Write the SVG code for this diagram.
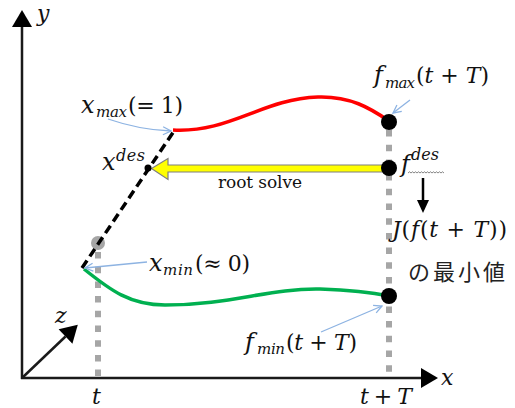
<svg xmlns="http://www.w3.org/2000/svg" width="515" height="408" viewBox="0 0 515 408">
<style>
.m{font-family:"DejaVu Serif","Liberation Serif",serif;font-size:22px;fill:#111}
.b{font-size:24px}
.i{font-style:italic}
.sub{font-family:"DejaVu Serif","Liberation Serif",serif;font-size:15px;font-style:italic;fill:#111}
.sup{font-family:"DejaVu Serif","Liberation Serif",serif;font-size:16px;font-style:italic;fill:#111}
.txt{font-family:"DejaVu Serif","Liberation Serif",serif;font-size:17px;fill:#111}
.cjk{font-family:"Noto Sans CJK JP","Noto Sans CJK SC",sans-serif;font-size:22px;fill:#222}
.axis{stroke:#1a1a1a;stroke-width:2.5;fill:none}
.guide{stroke:#a6a6a6;stroke-width:6;stroke-dasharray:6.5 8.2;fill:none}
.note{stroke:#8db3e2;stroke-width:1.3;fill:none}
.dot{fill:#000}
</style>
<defs>
<marker id="ah" markerUnits="userSpaceOnUse" markerWidth="18" markerHeight="20" viewBox="0 0 17 20" refX="0" refY="10" orient="auto">
<path d="M0,0 L17,10 L0,20 z" fill="#000"/>
</marker>
<marker id="bh" markerUnits="userSpaceOnUse" markerWidth="10" markerHeight="10" viewBox="0 0 10 10" refX="9" refY="5" orient="auto">
<path d="M1,1 L9,5 L1,9" fill="none" stroke="#8db3e2" stroke-width="1.3"/>
</marker>
</defs>
<rect width="515" height="408" fill="#fff"/>

<g id="axes">
<line class="axis" x1="22" y1="379" x2="22" y2="27" marker-end="url(#ah)"/>
<line class="axis" x1="21" y1="378" x2="421" y2="378" marker-end="url(#ah)"/>
<line class="axis" x1="22" y1="378" x2="65.5" y2="336.5" marker-end="url(#ah)"/>
<text class="m i" x="37" y="21">y</text>
<text class="m i" x="441" y="385">x</text>
<text class="m i" x="55" y="323">z</text>
<text class="m i" x="92" y="404">t</text>
<text class="m" x="360" y="404" textLength="52" lengthAdjust="spacing"><tspan class="i">t</tspan> + <tspan class="i">T</tspan></text>
</g>

<g id="connectors">
<line class="guide" x1="98" y1="252" x2="98" y2="378"/>
<line class="guide" x1="389" y1="130" x2="389" y2="378"/>
<circle cx="98" cy="243" r="7" fill="#a6a6a6"/>
<line x1="82" y1="268" x2="174" y2="131" stroke="#000" stroke-width="3.5" stroke-dasharray="9 5"/>
<path d="M173,130 C230,133 262,99 318,97 C350,96 370,108 389,121" fill="none" stroke="#ff0000" stroke-width="3.5"/>
<path d="M84,269 C110,290 130,305 165,305 C230,305 270,288 320,289 C350,290 370,292 389,296" fill="none" stroke="#00b050" stroke-width="3.5"/>
<polygon points="386,165 168,165 168,158.5 151.5,168.5 168,179.5 168,172 386,172" fill="#ffff00" stroke="#7f7f7f" stroke-width="1.2"/>
<line x1="423" y1="178" x2="423" y2="202" stroke="#000" stroke-width="2.5"/>
<polygon points="417,200 429,200 423,213" fill="#000"/>
<path class="note" d="M108,119 Q140,130 171,131" marker-end="url(#bh)"/>
<line class="note" x1="410" y1="100" x2="393" y2="113" marker-end="url(#bh)"/>
<line class="note" x1="147" y1="262" x2="85" y2="268" marker-end="url(#bh)"/>
<line class="note" x1="321" y1="332" x2="382" y2="306" marker-end="url(#bh)"/>
</g>

<g id="node-fmax">
<circle class="dot" cx="389" cy="122" r="8"/>
<text class="m b i" x="374" y="83">f</text>
<text class="sub" x="385" y="88" textLength="30" lengthAdjust="spacing">max</text>
<text class="m" x="416" y="83" textLength="73" lengthAdjust="spacing">(<tspan class="i">t</tspan> + <tspan class="i">T</tspan>)</text>
</g>

<g id="node-fdes">
<circle class="dot" cx="389" cy="168" r="8"/>
<text class="m b i" x="401" y="172">f</text>
<text class="sup" x="411" y="160">des</text>
<path d="M408,173 l1.5,-1.2 l1.5,1.2 l1.5,-1.2 l1.5,1.2 l1.5,-1.2 l1.5,1.2 l1.5,-1.2 l1.5,1.2 l1.5,-1.2 l1.5,1.2 l1.5,-1.2 l1.5,1.2 l1.5,-1.2 l1.5,1.2 l1.5,-1.2 l1.5,1.2 l1.5,-1.2 l1.5,1.2 l1.5,-1.2 l1.5,1.2 l1.5,-1.2 l1.5,1.2 l1.5,-1.2 l1.5,1.2" fill="none" stroke="#666" stroke-width="0.8"/>
</g>

<g id="node-J">
<text class="m" x="392" y="237" textLength="115" lengthAdjust="spacing"><tspan class="i">J</tspan>(<tspan class="i">f</tspan>(<tspan class="i">t</tspan> + <tspan class="i">T</tspan>))</text>
<text class="cjk" x="408" y="280" textLength="97" lengthAdjust="spacing">の最小値</text>
</g>

<g id="node-fmin">
<circle class="dot" cx="389" cy="296" r="8"/>
<text class="m b i" x="245" y="350">f</text>
<text class="sub" x="257" y="354" textLength="28" lengthAdjust="spacing">min</text>
<text class="m" x="286" y="350" textLength="71" lengthAdjust="spacing">(<tspan class="i">t</tspan> + <tspan class="i">T</tspan>)</text>
</g>

<g id="node-xmax">
<text class="m b i" x="81" y="113">x</text>
<text class="sub" x="96" y="117" textLength="31" lengthAdjust="spacing">max</text>
<text class="m" x="128" y="113" textLength="55" lengthAdjust="spacing">(= 1)</text>
</g>

<g id="node-xdes">
<circle class="dot" cx="148" cy="168" r="3.5"/>
<text class="m b i" x="102" y="170">x</text>
<text class="sup" x="116" y="161" textLength="29" lengthAdjust="spacing">des</text>
<text class="txt" x="218" y="188" textLength="84" lengthAdjust="spacing">root solve</text>
</g>

<g id="node-xmin">
<text class="m b i" x="149" y="271">x</text>
<text class="sub" x="163" y="275" textLength="30" lengthAdjust="spacing">min</text>
<text class="m" x="195" y="271" textLength="55" lengthAdjust="spacing">(≈ 0)</text>
</g>
</svg>
